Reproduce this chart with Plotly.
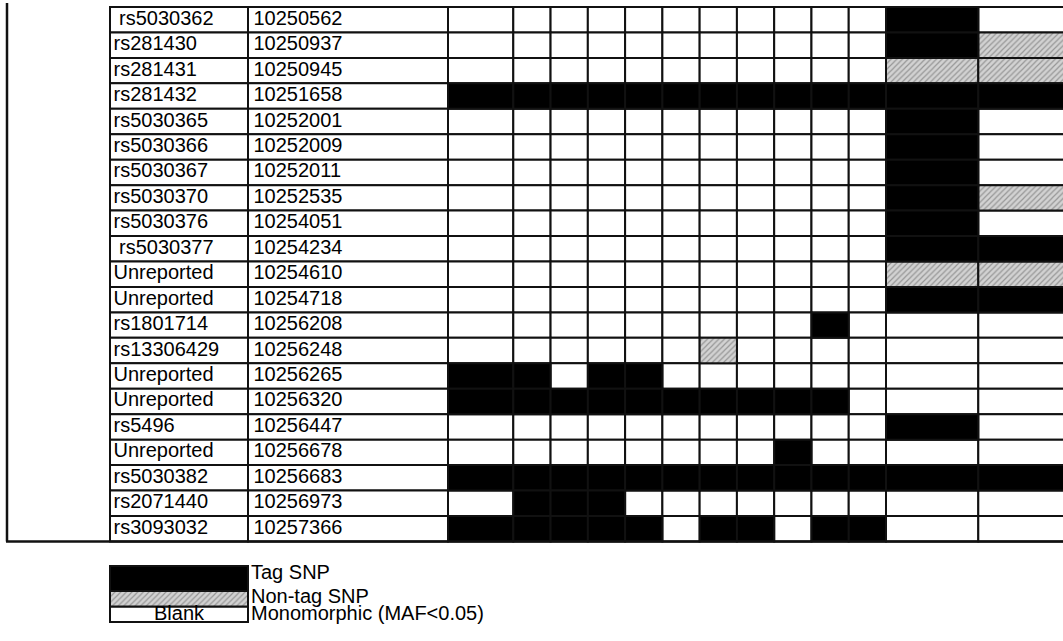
import plotly.graph_objects as go

# ---------------- data ----------------
snp_ids = ["\u00a0rs5030362", "rs281430", "rs281431", "rs281432", "rs5030365",
           "rs5030366", "rs5030367", "rs5030370", "rs5030376", "\u00a0rs5030377",
           "Unreported", "Unreported", "rs1801714", "rs13306429", "Unreported",
           "Unreported", "rs5496", "Unreported", "rs5030382", "rs2071440", "rs3093032"]
positions = ["10250562", "10250937", "10250945", "10251658", "10252001",
             "10252009", "10252011", "10252535", "10254051", "10254234",
             "10254610", "10254718", "10256208", "10256248", "10256265",
             "10256320", "10256447", "10256678", "10256683", "10256973", "10257366"]

# 0 = monomorphic (blank), 1 = tag SNP, 2 = non-tag SNP  (13 columns per SNP)
status = [
    [0, 0, 0, 0, 0, 0, 0, 0, 0, 0, 0, 1, 0],
    [0, 0, 0, 0, 0, 0, 0, 0, 0, 0, 0, 1, 2],
    [0, 0, 0, 0, 0, 0, 0, 0, 0, 0, 0, 2, 2],
    [1, 1, 1, 1, 1, 1, 1, 1, 1, 1, 1, 1, 1],
    [0, 0, 0, 0, 0, 0, 0, 0, 0, 0, 0, 1, 0],
    [0, 0, 0, 0, 0, 0, 0, 0, 0, 0, 0, 1, 0],
    [0, 0, 0, 0, 0, 0, 0, 0, 0, 0, 0, 1, 0],
    [0, 0, 0, 0, 0, 0, 0, 0, 0, 0, 0, 1, 2],
    [0, 0, 0, 0, 0, 0, 0, 0, 0, 0, 0, 1, 0],
    [0, 0, 0, 0, 0, 0, 0, 0, 0, 0, 0, 1, 1],
    [0, 0, 0, 0, 0, 0, 0, 0, 0, 0, 0, 2, 2],
    [0, 0, 0, 0, 0, 0, 0, 0, 0, 0, 0, 1, 1],
    [0, 0, 0, 0, 0, 0, 0, 0, 0, 1, 0, 0, 0],
    [0, 0, 0, 0, 0, 0, 2, 0, 0, 0, 0, 0, 0],
    [1, 1, 0, 1, 1, 0, 0, 0, 0, 0, 0, 0, 0],
    [1, 1, 1, 1, 1, 1, 1, 1, 1, 1, 0, 0, 0],
    [0, 0, 0, 0, 0, 0, 0, 0, 0, 0, 0, 1, 0],
    [0, 0, 0, 0, 0, 0, 0, 0, 1, 0, 0, 0, 0],
    [1, 1, 1, 1, 1, 1, 1, 1, 1, 1, 1, 1, 1],
    [0, 1, 1, 1, 0, 0, 0, 0, 0, 0, 0, 0, 0],
    [1, 1, 1, 1, 1, 0, 1, 1, 0, 1, 1, 0, 0],
]

legend_status = [1, 2, 0]
legend_keys = ["", "", "Blank"]
legend_labels = ["Tag SNP", "Non-tag SNP", "Monomorphic (MAF<0.05)"]

# ---------------- layout constants ----------------
W, H = 1063, 641
TOP = 7.0
ROW_H = 25.45
NAME_X0, POS_X0, GRID_X0 = 110.0, 248.0, 448.0
COL_W = [65.3] + [37.27] * 10 + [92.3, 110.0]
LEG_TOP = 566.0
LEG_ROW_H = [25.0, 15.5, 15.5]
LEG_TEXT_DY = [7.5, 6.5, 8.5]
FONT = "Liberation Sans, Arial, Helvetica, sans-serif"
FS = 20
LINE = dict(color="#111111", width=2)

col_left = [GRID_X0]
for w in COL_W[:-1]:
    col_left.append(col_left[-1] + w)

row_y = [TOP + ROW_H * (i + 0.5) for i in range(len(snp_ids))]
leg_top = [LEG_TOP]
for h in LEG_ROW_H[:-1]:
    leg_top.append(leg_top[-1] + h)
leg_box_y = [t + h / 2 for t, h in zip(leg_top, LEG_ROW_H)]
leg_text_y = [t + d for t, d in zip(leg_top, LEG_TEXT_DY)]

STYLE = {
    0: dict(color="white", line=LINE),
    1: dict(color="black", line=LINE),
    2: dict(color="#b8b8b8", line=LINE,
            pattern=dict(shape="/", fgcolor="#5a5a5a", bgcolor="#d2d2d2",
                         size=4, solidity=0.3)),
}

cells = {0: ([], [], [], []), 1: ([], [], [], []), 2: ([], [], [], [])}


def add_cell(kind, y, left, width, h):
    ys, xs, bs, ws = cells[kind]
    ys.append(y)
    xs.append(width)
    bs.append(left)
    ws.append(h)


# name / position columns (blank cells) and the status grid
for i in range(len(snp_ids)):
    add_cell(0, row_y[i], NAME_X0, POS_X0 - NAME_X0, ROW_H)
    add_cell(0, row_y[i], POS_X0, GRID_X0 - POS_X0, ROW_H)
    for j, s in enumerate(status[i]):
        add_cell(s, row_y[i], col_left[j], COL_W[j], ROW_H)

# legend boxes
for k, s in enumerate(legend_status):
    add_cell(s, leg_box_y[k], NAME_X0, POS_X0 - NAME_X0, LEG_ROW_H[k])

fig = go.Figure()
for kind in (0, 2, 1):
    ys, xs, bs, ws = cells[kind]
    fig.add_trace(go.Bar(orientation="h", y=ys, x=xs, base=bs, width=ws,
                         marker=STYLE[kind], hoverinfo="skip", showlegend=False))

txt = dict(family=FONT, size=FS, color="black")
fig.add_trace(go.Scatter(x=[NAME_X0 + 3.5] * len(snp_ids), y=row_y, text=snp_ids,
                         mode="text", textposition="middle right", textfont=txt,
                         hoverinfo="skip", showlegend=False))
fig.add_trace(go.Scatter(x=[POS_X0 + 5.5] * len(positions), y=row_y, text=positions,
                         mode="text", textposition="middle right", textfont=txt,
                         hoverinfo="skip", showlegend=False))
fig.add_trace(go.Scatter(x=[(NAME_X0 + POS_X0) / 2] * len(legend_keys), y=leg_text_y,
                         text=legend_keys, mode="text", textposition="middle center",
                         textfont=txt, hoverinfo="skip", showlegend=False))
fig.add_trace(go.Scatter(x=[POS_X0 + 3] * len(legend_labels), y=leg_text_y,
                         text=legend_labels, mode="text", textposition="middle right",
                         textfont=txt, hoverinfo="skip", showlegend=False))

table_bottom = TOP + ROW_H * len(snp_ids)
# outer frame of the table (left edge and bottom edge)
fig.add_shape(type="line", x0=7, x1=7, y0=3, y1=table_bottom,
              line=dict(color="#111111", width=2.5))
fig.add_shape(type="line", x0=6, x1=W + 5, y0=table_bottom, y1=table_bottom,
              line=dict(color="#111111", width=2.5))

fig.update_layout(
    width=W, height=H,
    margin=dict(l=0, r=0, t=0, b=0),
    paper_bgcolor="white", plot_bgcolor="white",
    barmode="overlay",
    xaxis=dict(range=[0, W], visible=False, fixedrange=True),
    yaxis=dict(range=[H, 0], visible=False, fixedrange=True),
)

fig.write_html("out.html",
               config={"displayModeBar": False, "staticPlot": True},
               post_script="document.body.style.margin='0';document.body.style.overflow='hidden';")
